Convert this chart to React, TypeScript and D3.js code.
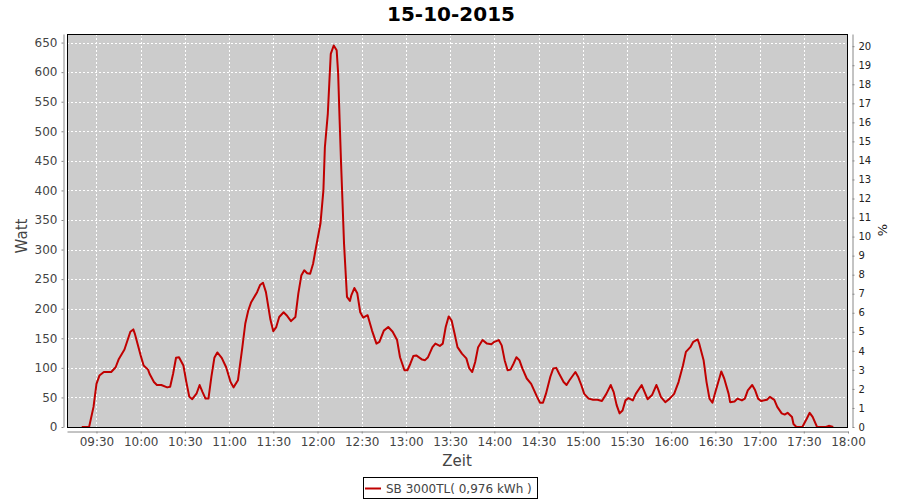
import React, { useEffect, useRef } from 'react';
import * as d3 from 'd3';

// readings of the inverter, time of day -> watt
const times = [
    "09:20", "09:25", "09:28", "09:30", "09:32", "09:35", "09:40", "09:43", "09:45", "09:49",
    "09:53", "09:55", "09:56", "10:00", "10:02", "10:05", "10:06", "10:09", "10:11", "10:14",
    "10:18", "10:20", "10:22", "10:24", "10:26", "10:29", "10:31", "10:33", "10:35", "10:38",
    "10:40", "10:42", "10:44", "10:46", "10:48", "10:50", "10:52", "10:55", "10:58", "11:01",
    "11:03", "11:06", "11:09", "11:11", "11:13", "11:15", "11:19", "11:21", "11:23", "11:25",
    "11:28", "11:30", "11:32", "11:34", "11:37", "11:39", "11:42", "11:45", "11:47", "11:49",
    "11:51", "11:53", "11:55", "11:57", "11:59", "12:02", "12:04", "12:05", "12:07", "12:08",
    "12:09", "12:11", "12:13", "12:14", "12:15", "12:16", "12:17", "12:18", "12:19", "12:20",
    "12:22", "12:23", "12:25", "12:27", "12:29", "12:31", "12:34", "12:37", "12:40", "12:42",
    "12:45", "12:48", "12:51", "12:54", "12:56", "12:59", "13:01", "13:03", "13:05", "13:07",
    "13:11", "13:13", "13:15", "13:18", "13:20", "13:23", "13:25", "13:27", "13:29", "13:31",
    "13:33", "13:35", "13:38", "13:41", "13:43", "13:45", "13:47", "13:49", "13:52", "13:55",
    "13:58", "14:00", "14:03", "14:05", "14:07", "14:09", "14:11", "14:13", "14:15", "14:17",
    "14:19", "14:22", "14:25", "14:27", "14:29", "14:31", "14:33", "14:35", "14:38", "14:40",
    "14:42", "14:44", "14:47", "14:49", "14:51", "14:55", "14:57", "14:59", "15:01", "15:04",
    "15:07", "15:10", "15:13", "15:16", "15:19", "15:21", "15:23", "15:25", "15:27", "15:29",
    "15:31", "15:34", "15:36", "15:40", "15:42", "15:44", "15:47", "15:50", "15:51", "15:53",
    "15:56", "15:59", "16:02", "16:05", "16:08", "16:10", "16:13", "16:15", "16:18", "16:19",
    "16:22", "16:24", "16:26", "16:28", "16:30", "16:33", "16:34", "16:36", "16:39", "16:40",
    "16:43", "16:45", "16:48", "16:50", "16:52", "16:55", "16:57", "16:59", "17:01", "17:05",
    "17:07", "17:10", "17:12", "17:15", "17:17", "17:19", "17:22", "17:23", "17:25", "17:29",
    "17:32", "17:34", "17:36", "17:39", "17:45", "17:47", "17:50"
];

const watts = [
    0, 0, 34, 73, 87, 93, 93, 101, 114, 131,
    161, 165, 158, 121, 104, 97, 90, 76, 71, 71,
    67, 68, 90, 117, 118, 104, 76, 51, 47, 57,
    71, 59, 48, 48, 85, 117, 126, 117, 101, 76,
    67, 79, 135, 175, 197, 211, 228, 240, 244, 228,
    182, 162, 169, 186, 194, 189, 179, 186, 226, 256,
    265, 260, 259, 276, 304, 344, 400, 473, 530, 581,
    631, 645, 637, 598, 519, 445, 378, 310, 265, 220,
    213, 223, 235, 226, 194, 185, 189, 163, 141, 144,
    163, 169, 161, 147, 118, 96, 96, 107, 120, 121,
    114, 113, 118, 135, 141, 137, 141, 169, 187, 180,
    158, 135, 124, 116, 99, 93, 110, 135, 147, 141,
    140, 144, 147, 138, 113, 96, 97, 107, 118, 113,
    99, 82, 73, 62, 51, 41, 41, 56, 85, 99,
    100, 90, 76, 71, 79, 93, 84, 71, 56, 48,
    46, 46, 44, 56, 71, 59, 37, 23, 28, 45,
    49, 45, 56, 71, 59, 47, 54, 71, 65, 51,
    42, 48, 56, 76, 104, 127, 135, 144, 148, 141,
    113, 76, 48, 41, 59, 85, 94, 82, 56, 42,
    43, 48, 45, 48, 62, 71, 62, 48, 44, 46,
    51, 46, 34, 23, 21, 24, 17, 5, 0, 0,
    14, 24, 17, 0, 0, 2, 0
];

const title = "15-10-2015";
const seriesName = "SB 3000TL( 0,976 kWh )";
const timeRange = ["09:10", "18:00"];
const wattTicks = [0, 50, 100, 150, 200, 250, 300, 350, 400, 450, 500, 550, 600, 650];
const percentTicks = d3.range(0, 21);

const W = 900;
const H = 500;
const FONT = "'DejaVu Sans', sans-serif";

const App: React.FC = () => {
    const svgRef = useRef<SVGSVGElement>(null);

    useEffect(() => {
        if (!svgRef.current) return;
        const svg = d3.select(svgRef.current);
        svg.selectAll("*").remove();

        const plot = { left: 67, top: 34, right: 848, bottom: 427 };
        const parse = d3.timeParse("%H:%M");
        const data = times.map((t, i) => ({ t: parse(t) as Date, v: watts[i] }));

        const x = d3.scaleTime()
            .domain(timeRange.map(t => parse(t) as Date))
            .range([plot.left, plot.right]);
        const y = d3.scaleLinear().domain([0, 664.5]).range([plot.bottom, plot.top]);
        const yPct = d3.scaleLinear().domain([0, 20.64]).range([plot.bottom, plot.top]);

        const xTicks = d3.timeMinute.every(30)!.range(parse("09:30") as Date, d3.timeMinute.offset(parse("18:00") as Date, 1));

        // title
        svg.append("text")
            .attr("x", 451).attr("y", 21)
            .attr("text-anchor", "middle")
            .style("font-family", FONT).style("font-size", "20px").style("font-weight", "bold")
            .attr("fill", "#000")
            .text(title);

        // plot background
        svg.append("rect")
            .attr("x", plot.left).attr("y", plot.top)
            .attr("width", plot.right - plot.left).attr("height", plot.bottom - plot.top)
            .attr("fill", "#cccccc");

        // grid
        const grid = svg.append("g").attr("stroke", "#ffffff").attr("stroke-width", 1).attr("stroke-dasharray", "2,2");
        grid.selectAll(".vg").data(xTicks).enter().append("line")
            .attr("x1", d => Math.round(x(d)) + 0.5).attr("x2", d => Math.round(x(d)) + 0.5)
            .attr("y1", plot.top).attr("y2", plot.bottom);
        grid.selectAll(".hg").data(wattTicks).enter().append("line")
            .attr("x1", plot.left).attr("x2", plot.right)
            .attr("y1", d => Math.round(y(d)) + 0.5).attr("y2", d => Math.round(y(d)) + 0.5);

        // series
        svg.append("clipPath").attr("id", "plotclip").append("rect")
            .attr("x", plot.left).attr("y", plot.top)
            .attr("width", plot.right - plot.left).attr("height", plot.bottom - plot.top);
        const line = d3.line<{ t: Date; v: number }>()
            .x(d => x(d.t))
            .y(d => y(d.v));
        svg.append("path")
            .datum(data)
            .attr("clip-path", "url(#plotclip)")
            .attr("d", line)
            .attr("fill", "none")
            .attr("stroke", "#c00000")
            .attr("stroke-width", 2)
            .attr("stroke-linejoin", "round");

        // plot border
        svg.append("rect")
            .attr("x", plot.left + 0.5).attr("y", plot.top + 0.5)
            .attr("width", plot.right - plot.left - 1).attr("height", plot.bottom - plot.top)
            .attr("fill", "none").attr("stroke", "#000").attr("stroke-width", 1);

        // axes
        const leftAxis = svg.append("g")
            .attr("transform", `translate(${plot.left - 3.5},0)`)
            .call(d3.axisLeft(y).tickValues(wattTicks).tickSize(2).tickPadding(4).tickSizeOuter(0));
        leftAxis.selectAll("text").style("fill", "#444").style("font-family", FONT).style("font-size", "12px");

        const bottomAxis = svg.append("g")
            .attr("transform", `translate(0,${plot.bottom + 4.5})`)
            .call(d3.axisBottom(x).tickValues(xTicks).tickFormat(d3.timeFormat("%H:%M") as any).tickSize(2).tickPadding(4).tickSizeOuter(0));
        bottomAxis.selectAll("text").style("fill", "#444").style("font-family", FONT).style("font-size", "12px");

        const rightAxis = svg.append("g")
            .attr("transform", `translate(${plot.right + 4.5},0)`)
            .call(d3.axisRight(yPct).tickValues(percentTicks).tickSize(2).tickPadding(4).tickSizeOuter(0));
        rightAxis.selectAll("text").style("fill", "#222").style("font-family", FONT).style("font-size", "10px");

        svg.selectAll(".domain").attr("stroke", "#888");
        svg.selectAll(".tick line").attr("stroke", "#888");

        // axis labels
        svg.append("text")
            .attr("transform", "translate(27,236) rotate(-90)")
            .attr("text-anchor", "middle")
            .style("font-family", FONT).style("font-size", "15px")
            .attr("fill", "#444")
            .text("Watt");
        svg.append("text")
            .attr("transform", "translate(887,230) rotate(-90)")
            .attr("text-anchor", "middle")
            .style("font-family", FONT).style("font-size", "13px")
            .attr("fill", "#222")
            .text("%");
        svg.append("text")
            .attr("x", 457).attr("y", 466)
            .attr("text-anchor", "middle")
            .style("font-family", FONT).style("font-size", "15px")
            .attr("fill", "#444")
            .text("Zeit");

        // legend
        const lg = svg.append("g");
        lg.append("rect")
            .attr("x", 363.5).attr("y", 477.5).attr("width", 174).attr("height", 21)
            .attr("fill", "#fff").attr("stroke", "#000");
        lg.append("line")
            .attr("x1", 365).attr("x2", 381).attr("y1", 488.5).attr("y2", 488.5)
            .attr("stroke", "#c00000").attr("stroke-width", 2);
        lg.append("text")
            .attr("x", 386).attr("y", 492.5)
            .style("font-family", FONT).style("font-size", "12px")
            .attr("fill", "#444")
            .text(seriesName);
    }, []);

    return (
        <svg ref={svgRef} width={W} height={H} viewBox={`0 0 ${W} ${H}`}
            style={{ position: 'absolute', left: 0, top: 0, background: '#fff' }} />
    );
};

export default App;
